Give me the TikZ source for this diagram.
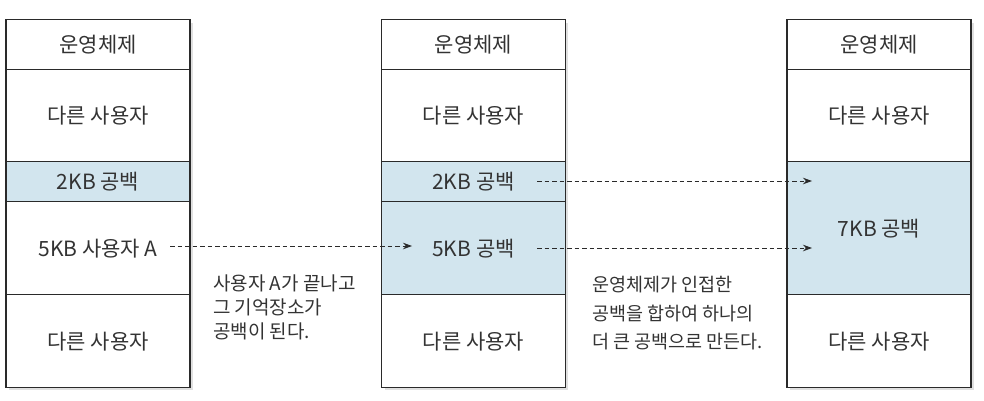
\documentclass[tikz,border=0pt]{standalone}
\usepackage{fontspec}
\setmainfont{Noto Sans CJK KR}
\usetikzlibrary{arrows.meta}
\definecolor{gapfill}{HTML}{D2E5EE}
\definecolor{ink}{HTML}{2A2A2A}
\definecolor{txt}{HTML}{333333}
\tikzset{
  cell/.style={draw=ink, fill=white, line width=1.3pt, minimum width=184pt, inner sep=0pt,
    text=txt, font=\fontsize{21}{24}\selectfont, anchor=north},
  freecell/.style={cell, fill=gapfill},
  shade/.style={fill=black!12},
  conn/.style={draw=ink, line width=0.8pt, dash pattern=on 4.5pt off 3pt,
    -{Stealth[length=9pt,width=6.5pt]}},
  note/.style={text=txt, align=left, anchor=north west, inner sep=0pt}
}
\begin{document}
\begin{tikzpicture}[x=1pt,y=-1pt]
\useasboundingbox (0,0) rectangle (984,400);
% shadows
\fill[shade] (9,23) rectangle (193,390);
\fill[shade] (385,23) rectangle (568,390);
\fill[shade] (790,23) rectangle (974,390);
% column 1
\node[cell, minimum height=50] (aos) at (98,19) {운영체제};
\node[cell, minimum height=92] (au1) at (98,69) {다른 사용자};
\node[freecell, minimum height=40] (ag) at (98,161) {2KB 공백};
\node[cell, minimum height=93] (aa) at (98,201) {5KB 사용자 A};
\node[cell, minimum height=93] (au2) at (98,294) {다른 사용자};
% column 2
\node[cell, minimum height=50] (bos) at (473.5,19) {운영체제};
\node[cell, minimum height=92] (bu1) at (473.5,69) {다른 사용자};
\node[freecell, minimum height=40] (bg) at (473.5,161) {2KB 공백};
\node[freecell, minimum height=93] (bg5) at (473.5,201) {5KB 공백};
\node[cell, minimum height=93] (bu2) at (473.5,294) {다른 사용자};
% column 3
\node[cell, minimum height=50] (cos) at (879,19) {운영체제};
\node[cell, minimum height=92] (cu1) at (879,69) {다른 사용자};
\node[freecell, minimum height=133] (cg) at (879,161) {7KB 공백};
\node[cell, minimum height=93] (cu2) at (879,294) {다른 사용자};
% connector ends
\coordinate (s1) at (170,246);
\coordinate (e1) at (412,246);
\coordinate (s2) at (537,181);
\coordinate (e2) at (812,181);
\coordinate (s3) at (537,248);
\coordinate (e3) at (812,248);
\draw[conn] (s1) -- (e1);
\draw[conn] (s2) -- (e2);
\draw[conn] (s3) -- (e3);
% notes
\node[note, font=\fontsize{19}{24}\selectfont] (n1) at (213,275) {사용자 A가 끝나고\\그 기억장소가\\공백이 된다.};
\node[note, font=\fontsize{18.5}{28.5}\selectfont] (n2) at (592,276) {운영체제가 인접한\\공백을 합하여 하나의\\더 큰 공백으로 만든다.};
\end{tikzpicture}
\end{document}
